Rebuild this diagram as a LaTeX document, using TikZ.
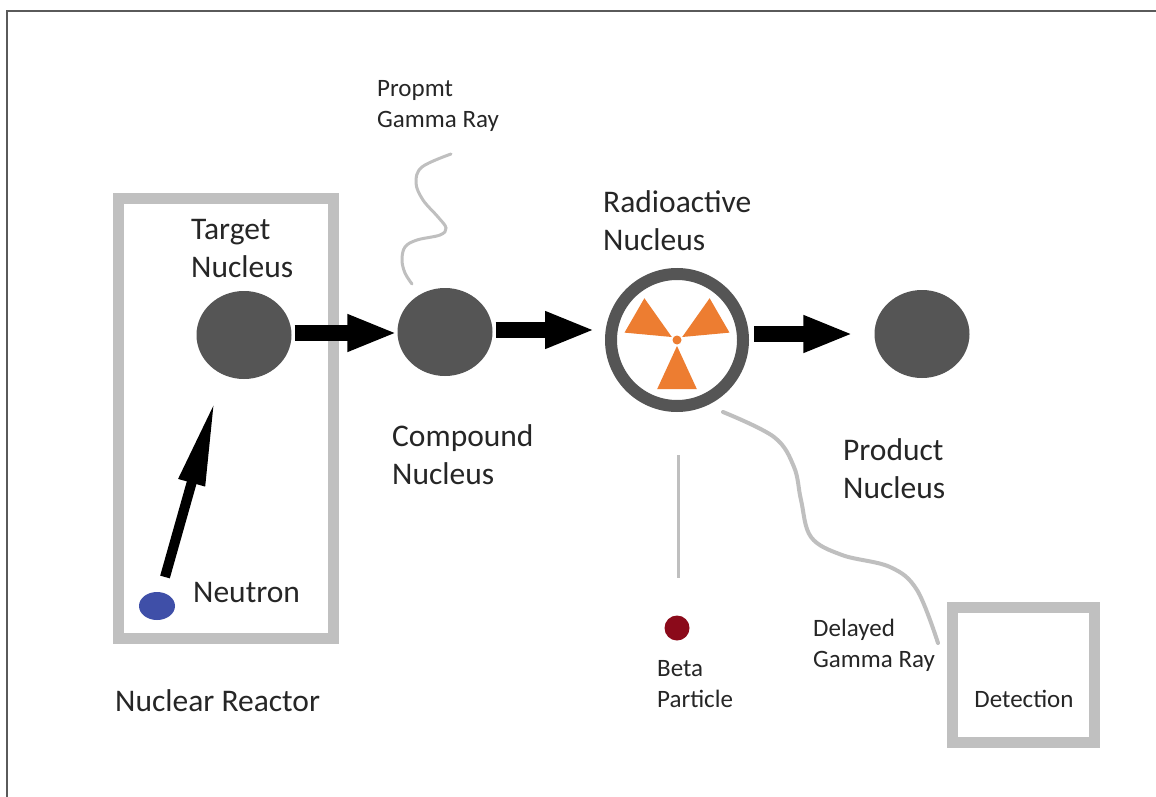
\documentclass[tikz,border=0pt]{standalone}
\usepackage{fontspec}
\setmainfont{Carlito}
\usetikzlibrary{shapes.geometric,arrows.meta,calc}
\definecolor{nuc}{HTML}{555555}
\definecolor{boxgray}{HTML}{C0C0C0}
\definecolor{raygray}{HTML}{BFBFBF}
\definecolor{txt}{HTML}{262626}
\definecolor{orng}{HTML}{ED7D31}
\definecolor{neublue}{HTML}{3F4FA8}
\definecolor{betared}{HTML}{8B0A1A}
\definecolor{framecol}{HTML}{5A5A5A}
\begin{document}
\begin{tikzpicture}[x=1pt,y=-1pt,
 nucleus/.style={ellipse,fill=nuc,minimum width=95pt,minimum height=88pt,inner sep=0pt},
 bigtxt/.style={font=\fontsize{31.5}{37.5}\selectfont,text=txt,align=left,inner sep=0pt,anchor=base west},
 smalltxt/.style={font=\fontsize{25}{31}\selectfont,text=txt,align=left,inner sep=0pt,anchor=base west},
 frbox/.style={draw=boxgray,line width=11pt,inner sep=0pt},
 bigarrow/.style={line width=16pt,-{Triangle[length=50pt,width=34pt]}},
 ray/.style={draw=raygray,line cap=round},
]
\useasboundingbox (0,0) rectangle (1156,797);
\fill[white] (0,0) rectangle (1156,797);
\draw[framecol,line width=1.8pt] (7,797) -- (7,11) -- (1156,11);

% reactor box
\node[frbox,minimum width=215pt,minimum height=439.5pt] (rea) at (226,418.25) {};

% nuclei
\node[nucleus] (tgt) at (244,335) {};
\node[nucleus] (cmp) at (445,332) {};
\node[circle,draw=nuc,fill=white,line width=12pt,minimum size=132pt,inner sep=0pt] (rad) at (677,340) {};
\node[nucleus] (prd) at (922,334) {};

% trefoil
\coordinate (tre) at (677,340);
\foreach \a in {90,210,330}
  \fill[orng] ($(tre)+(\a:6)$) -- ($(tre)+(\a-22:53)$) -- ($(tre)+(\a+22:53)$) -- cycle;
\fill[orng] (tre) circle (4.5);

% big arrows
\draw[bigarrow] ([xshift=3pt,yshift=2pt]tgt.east) -- ([yshift=2pt]tgt.east -| cmp.west);
\draw[bigarrow] ([xshift=3pt,yshift=2pt]cmp.east) -- ([xshift=-10pt,yshift=2pt]cmp.east -| rad.west);
\draw[bigarrow] ([xshift=5pt]rad.east |- prd.west) -- ([xshift=-21pt]prd.west);

% neutron
\node[ellipse,fill=neublue,minimum width=36pt,minimum height=28pt,inner sep=0pt] (neu) at (157,606) {};
\coordinate (ntail) at (165,577);
\coordinate (nhead) at (215,400);
\draw[line width=10pt,-{Triangle[length=86pt,width=25pt]}] (ntail) -- (nhead);

% prompt gamma ray
\coordinate (pg0) at (412,284);
\coordinate (pg1) at (451,154);
\draw[ray,line width=3pt] plot[smooth,tension=0.6] coordinates {(pg0) (405,273) (402,260) (405,247) (417,240) (440,235) (446,228) (438,217) (423,200) (416,183) (422,167) (pg1)};

% beta
\coordinate (bl0) at (678,455);
\coordinate (bl1) at (678,578);
\draw[draw=raygray,line width=3pt] (bl0) -- (bl1);
\node[circle,fill=betared,minimum size=25pt,inner sep=0pt] (beta) at (677,628) {};

% delayed gamma ray
\coordinate (dg0) at (723,412);
\coordinate (dg1) at (938,643);
\draw[ray,line width=4pt] plot[smooth,tension=0.6] coordinates {(dg0) (774,437) (794,467) (801,500) (811,537) (842,555) (890,567) (917,590) (dg1)};

% detection
\node[frbox,minimum width=142pt,minimum height=134.5pt] (det) at (1023.5,675) {};
\node[smalltxt,anchor=base] (dett) at (1024,707) {Detection};

% labels (base anchor = baseline of last line)
\node[smalltxt] (ptxt) at (377,128) {Propmt\\Gamma Ray};
\node[bigtxt] (ttxt) at (191,277) {Target\\Nucleus};
\node[bigtxt] (ctxt) at (392,484) {Compound\\Nucleus};
\node[bigtxt] (rtxt) at (603,250) {Radioactive\\Nucleus};
\node[bigtxt] (prtxt) at (843,498) {Product\\Nucleus};
\node[bigtxt] (ntxt) at (193,602) {Neutron};
\node[bigtxt] (nrtxt) at (115,711) {Nuclear Reactor};
\node[smalltxt] (btxt) at (657,707) {Beta\\Particle};
\node[smalltxt] (dtxt) at (813,667) {Delayed\\Gamma Ray};
\end{tikzpicture}
\end{document}
